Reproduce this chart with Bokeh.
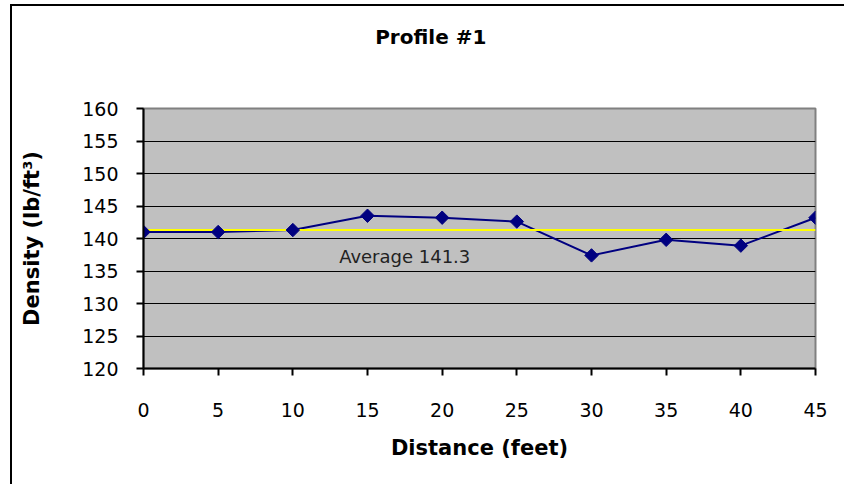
import math
from bokeh.plotting import figure
from bokeh.models import FixedTicker, Range1d, Label, LinearAxis
from bokeh.embed import file_html
from bokeh.resources import INLINE

distance = [0, 5, 10, 15, 20, 25, 30, 35, 40, 45]
density = [141.0, 141.0, 141.3, 143.5, 143.2, 142.6, 137.4, 139.8, 138.9, 143.2]
average = 141.3
x_ticks = [0, 5, 10, 15, 20, 25, 30, 35, 40, 45]
y_ticks = [120, 125, 130, 135, 140, 145, 150, 155, 160]
title_text = "Profile #1"

FONT = "DejaVu Sans"

p = figure(width=834, height=480, output_backend="svg", toolbar_location=None,
           x_range=Range1d(0, 45), y_range=Range1d(120, 160),
           min_border_left=131, min_border_right=31, min_border_top=102, min_border_bottom=118)
p.margin = (4, 0, 0, 10)
p.styles = {"border-style": "solid", "border-color": "black", "border-width": "2px 0 0 2px"}
p.background_fill_color = "#C0C0C0"
p.border_fill_color = "white"
p.outline_line_color = "#808080"
p.outline_line_width = 2

xa = p.below[0]
ya = p.left[0]

for ax in (xa, ya):
    ax.axis_line_color = "black"
    ax.axis_line_width = 2
    ax.major_tick_line_color = "black"
    ax.major_tick_line_width = 2
    ax.major_tick_out = 7
    ax.major_tick_in = 0
    ax.minor_tick_line_color = None
    ax.major_label_text_font = FONT
    ax.major_label_text_font_size = "19px"
    ax.major_label_text_color = "black"
    ax.axis_label_text_font = FONT
    ax.axis_label_text_font_size = "21px"
    ax.axis_label_text_font_style = "bold"
    ax.axis_label_text_color = "black"

xa.ticker = FixedTicker(ticks=x_ticks)
ya.ticker = FixedTicker(ticks=y_ticks)
xa.major_label_standoff = 27
ya.major_label_standoff = 18
xa.axis_label = "Distance (feet)"
ya.axis_label = "Density (lb/ft\u00b3)"
xa.axis_label_standoff = 16
ya.axis_label_standoff = 35

# chart title, drawn as the label of a bare axis above the frame;
# trailing no-break spaces move its centre left, as in the original chart
title_axis = LinearAxis(axis_label=title_text + "\u00a0" * 14, ticker=FixedTicker(ticks=[]),
                        axis_line_color=None, major_tick_line_color=None, minor_tick_line_color=None,
                        major_tick_out=0, major_tick_in=0, major_label_standoff=0,
                        axis_label_standoff=60, axis_label_text_font=FONT,
                        axis_label_text_font_size="20px", axis_label_text_font_style="bold",
                        axis_label_text_color="black")
p.add_layout(title_axis, "above")

p.xgrid.grid_line_color = None
p.ygrid.ticker = FixedTicker(ticks=y_ticks[1:-1])
p.ygrid.grid_line_color = "black"
p.ygrid.grid_line_width = 1

p.line(distance, density, line_color="#000080", line_width=2)
p.line([distance[0], distance[-1]], [average, average], line_color="#FFFF00", line_width=2)
p.scatter(distance, density, marker="square", angle=math.pi / 4, size=9.5,
          fill_color="#000080", line_color="#000080")

p.add_layout(Label(x=13.1, y=137.2, text="Average %.1f" % average, text_font=FONT,
                   text_font_size="18px", text_color="#222222", text_baseline="middle"))

open("out.html", "w").write(file_html(p, INLINE))
